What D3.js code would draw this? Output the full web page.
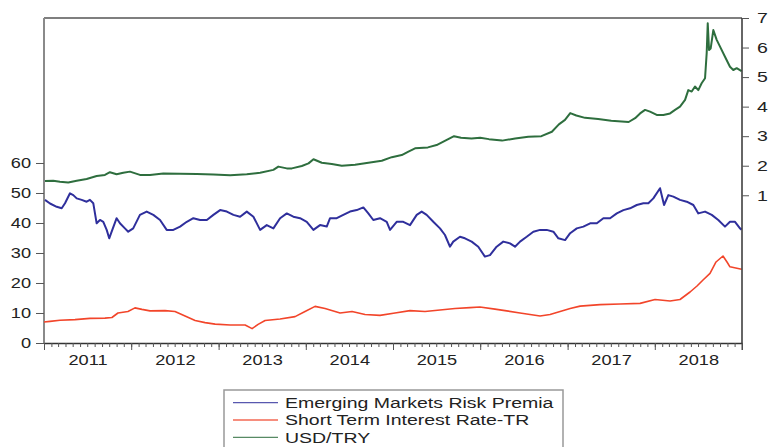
<!DOCTYPE html>
<html>
<head>
<meta charset="utf-8">
<script src="https://cdn.jsdelivr.net/npm/d3@7"></script>
<style>
  body { margin: 0; background: #fff; }
  text { font-family: "Liberation Sans", Arial, sans-serif; fill: #222; }
</style>
</head>
<body>
<div id="chart"></div>
<script>
// chart size and plot box
var width = 769, height = 447;
var box = {left: 44, right: 742, top: 18, bottom: 343};
var stretch = 1.3; // the picture's text is drawn wide

// Emerging Markets Risk Premia (left axis)
var emrpYears = [2011.011, 2011.069, 2011.146, 2011.203, 2011.241, 2011.298, 2011.336, 2011.375, 2011.432, 2011.489,
  2011.527, 2011.565, 2011.604, 2011.642, 2011.680, 2011.719, 2011.748, 2011.776, 2011.833, 2011.871,
  2011.928, 2011.966, 2012.023, 2012.100, 2012.177, 2012.253, 2012.330, 2012.406, 2012.482, 2012.559,
  2012.636, 2012.711, 2012.788, 2012.865, 2012.940, 2013.017, 2013.094, 2013.170, 2013.246, 2013.323,
  2013.399, 2013.476, 2013.552, 2013.628, 2013.705, 2013.782, 2013.857, 2013.934, 2014.011, 2014.087,
  2014.163, 2014.240, 2014.278, 2014.355, 2014.430, 2014.507, 2014.584, 2014.660, 2014.717, 2014.774,
  2014.851, 2014.928, 2014.966, 2015.042, 2015.118, 2015.195, 2015.272, 2015.329, 2015.386, 2015.462,
  2015.539, 2015.596, 2015.653, 2015.691, 2015.768, 2015.825, 2015.902, 2015.978, 2016.054, 2016.112,
  2016.188, 2016.264, 2016.341, 2016.398, 2016.456, 2016.532, 2016.608, 2016.685, 2016.761, 2016.837,
  2016.894, 2016.971, 2017.029, 2017.105, 2017.181, 2017.258, 2017.335, 2017.410, 2017.487, 2017.564,
  2017.640, 2017.716, 2017.793, 2017.869, 2017.926, 2017.983, 2018.060, 2018.106, 2018.155, 2018.213,
  2018.289, 2018.366, 2018.442, 2018.499, 2018.576, 2018.653, 2018.728, 2018.805, 2018.862, 2018.920,
  2018.977, 2018.995];
var emrpValues = [47.7, 46.5, 45.4, 44.9, 46.6, 49.9, 49.3, 48.2, 47.7, 47.1,
  47.7, 46.6, 39.9, 41.0, 40.4, 37.7, 34.9, 37.1, 41.6, 39.9,
  38.2, 37.1, 38.2, 42.7, 43.8, 42.7, 41.0, 37.7, 37.7, 38.8,
  40.4, 41.6, 41.0, 41.0, 42.7, 44.3, 43.8, 42.7, 42.1, 43.8,
  42.1, 37.7, 39.3, 38.2, 41.6, 43.2, 42.1, 41.6, 40.4, 37.7,
  39.3, 38.8, 41.6, 41.6, 42.7, 43.8, 44.3, 45.2, 43.2, 41.0,
  41.6, 40.4, 37.7, 40.4, 40.4, 39.3, 42.7, 43.8, 42.7, 40.4,
  38.2, 36.0, 32.1, 33.8, 35.4, 34.9, 33.8, 32.1, 28.8, 29.3,
  32.1, 33.8, 33.2, 32.1, 33.8, 35.4, 37.1, 37.7, 37.7, 37.1,
  34.9, 34.3, 36.6, 38.2, 38.8, 39.9, 39.9, 41.6, 41.6, 43.2,
  44.3, 44.9, 46.0, 46.6, 46.6, 48.2, 51.6, 46.0, 49.3, 48.8,
  47.7, 47.1, 46.0, 43.2, 43.8, 42.7, 41.0, 38.8, 40.4, 40.4,
  38.2, 37.8];

// Short Term Interest Rate-TR (left axis)
var rateYears = [2011.000, 2011.069, 2011.183, 2011.355, 2011.527, 2011.699, 2011.779, 2011.848, 2011.963, 2012.043,
  2012.123, 2012.215, 2012.387, 2012.501, 2012.616, 2012.731, 2012.845, 2012.960, 2013.132, 2013.304,
  2013.384, 2013.453, 2013.533, 2013.705, 2013.877, 2013.991, 2014.106, 2014.221, 2014.393, 2014.530,
  2014.679, 2014.851, 2015.023, 2015.195, 2015.367, 2015.539, 2015.711, 2015.883, 2015.997, 2016.169,
  2016.284, 2016.456, 2016.570, 2016.685, 2016.799, 2016.914, 2017.029, 2017.143, 2017.372, 2017.602,
  2017.831, 2018.003, 2018.175, 2018.289, 2018.404, 2018.484, 2018.553, 2018.633, 2018.702, 2018.782,
  2018.828, 2018.862, 2018.995];
var rateValues = [7.0, 7.2, 7.6, 7.8, 8.2, 8.3, 8.5, 10.0, 10.5, 11.7,
  11.2, 10.7, 10.8, 10.5, 9.0, 7.5, 6.8, 6.3, 6.0, 6.0,
  4.8, 6.2, 7.5, 8.0, 8.8, 10.5, 12.2, 11.5, 10.0, 10.5,
  9.5, 9.2, 10.0, 10.8, 10.5, 11.0, 11.5, 11.8, 12.0, 11.3,
  10.8, 10.0, 9.5, 9.0, 9.5, 10.5, 11.5, 12.3, 12.8, 13.0,
  13.2, 14.5, 14.0, 14.5, 17.0, 19.0, 21.0, 23.2, 27.0, 29.0,
  27.0, 25.4, 24.6];

// USD/TRY (right axis)
var usdYears = [2011.011, 2011.106, 2011.183, 2011.278, 2011.375, 2011.489, 2011.604, 2011.699, 2011.756, 2011.833,
  2011.909, 2011.986, 2012.100, 2012.215, 2012.367, 2012.559, 2012.750, 2012.940, 2013.132, 2013.323,
  2013.476, 2013.628, 2013.685, 2013.782, 2013.840, 2013.954, 2014.031, 2014.088, 2014.183, 2014.298,
  2014.413, 2014.565, 2014.718, 2014.871, 2014.986, 2015.100, 2015.177, 2015.253, 2015.400, 2015.500,
  2015.600, 2015.700, 2015.780, 2015.900, 2016.000, 2016.100, 2016.250, 2016.400, 2016.550, 2016.700,
  2016.820, 2016.900, 2016.970, 2017.030, 2017.100, 2017.200, 2017.350, 2017.500, 2017.620, 2017.700,
  2017.774, 2017.831, 2017.888, 2017.945, 2018.022, 2018.098, 2018.175, 2018.232, 2018.289, 2018.347,
  2018.384, 2018.423, 2018.461, 2018.499, 2018.537, 2018.576, 2018.595, 2018.607, 2018.622, 2018.641,
  2018.671, 2018.710, 2018.748, 2018.805, 2018.862, 2018.900, 2018.939, 2018.995];
var usdValues = [1.48, 1.49, 1.46, 1.43, 1.49, 1.55, 1.65, 1.69, 1.78, 1.71,
  1.76, 1.80, 1.69, 1.69, 1.74, 1.73, 1.72, 1.70, 1.68, 1.71,
  1.76, 1.86, 1.97, 1.91, 1.91, 1.99, 2.08, 2.22, 2.10, 2.06,
  2.00, 2.03, 2.10, 2.17, 2.29, 2.36, 2.48, 2.59, 2.62, 2.70,
  2.85, 3.00, 2.95, 2.92, 2.95, 2.90, 2.85, 2.92, 2.98, 3.00,
  3.15, 3.40, 3.55, 3.78, 3.70, 3.62, 3.58, 3.52, 3.50, 3.48,
  3.61, 3.77, 3.89, 3.83, 3.72, 3.72, 3.77, 3.89, 4.00, 4.23,
  4.56, 4.51, 4.68, 4.56, 4.79, 4.96, 5.81, 6.82, 5.92, 5.97,
  6.59, 6.26, 6.03, 5.69, 5.35, 5.24, 5.30, 5.20];

var yearLabels = ["2011", "2012", "2013", "2014", "2015", "2016", "2017", "2018"];
var leftTicks = [0, 10, 20, 30, 40, 50, 60];
var rightTicks = [1, 2, 3, 4, 5, 6, 7];
var seriesNames = ["Emerging Markets Risk Premia", "Short Term Interest Rate-TR", "USD/TRY"];
var seriesColors = ["#2f2f9c", "#f2452a", "#2e6e3e"];

// decimal year -> Date
function toDate(y) {
    var yr = Math.floor(y);
    var start = Date.UTC(yr, 0, 1), end = Date.UTC(yr + 1, 0, 1);
    return new Date(start + (y - yr) * (end - start));
}

var svg = d3.select("#chart").append("svg")
    .attr("width", width)
    .attr("height", height);

// scales
var x = d3.scaleUtc()
    .domain([new Date(Date.UTC(2011, 0, 1)), new Date(Date.UTC(2019, 0, 1))])
    .range([box.left, box.right]);
var yLeft = d3.scaleLinear().domain([0, 108.33]).range([box.bottom, box.top]);
var yRight = d3.scaleLinear().domain([-4, 7]).range([box.bottom, box.top]);

// frame
svg.append("line").attr("x1", box.left).attr("x2", box.right).attr("y1", box.top).attr("y2", box.top)
    .attr("stroke", "#555").attr("stroke-width", 1.5);
svg.append("line").attr("x1", box.left).attr("x2", box.left).attr("y1", box.top).attr("y2", box.bottom)
    .attr("stroke", "#8a8a8a").attr("stroke-width", 2);

// lines
var line = function(yScale) {
    return d3.line().x(d => x(toDate(d[0]))).y(d => yScale(d[1]));
};
var series = [
    {years: usdYears, values: usdValues, scale: yRight, color: seriesColors[2], w: 2},
    {years: rateYears, values: rateValues, scale: yLeft, color: seriesColors[1], w: 1.6},
    {years: emrpYears, values: emrpValues, scale: yLeft, color: seriesColors[0], w: 2}
];
series.forEach(function(s) {
    var pts = s.years.map((t, i) => [t, s.values[i]]);
    svg.append("path")
        .datum(pts)
        .attr("fill", "none")
        .attr("stroke", s.color)
        .attr("stroke-width", s.w)
        .attr("stroke-linejoin", "round")
        .attr("d", line(s.scale));
});

// bottom axis: month ticks, year ticks, then year labels in mid-year
var minorAxis = svg.append("g")
    .attr("transform", `translate(0, ${box.bottom})`)
    .call(d3.axisBottom(x).ticks(d3.utcMonth.every(1)).tickSize(4).tickSizeOuter(0).tickFormat(""));
var majorAxis = svg.append("g")
    .attr("transform", `translate(0, ${box.bottom})`)
    .call(d3.axisBottom(x).ticks(d3.utcYear.every(1)).tickSize(7).tickSizeOuter(0).tickFormat(""));
majorAxis.select(".domain").remove();
svg.append("line").attr("x1", box.right).attr("x2", box.right).attr("y1", box.bottom).attr("y2", box.bottom + 7)
    .attr("stroke", "#444");

var labelAxis = svg.append("g")
    .attr("transform", `translate(0, ${box.bottom})`)
    .call(d3.axisBottom(x)
        .tickValues(yearLabels.map(y => new Date(Date.UTC(+y, 6, 2))))
        .tickSize(0)
        .tickFormat((d, i) => yearLabels[i]));
labelAxis.select(".domain").remove();
labelAxis.selectAll("text")
    .attr("y", 22)
    .attr("dy", 0)
    .style("font-size", "14px")
    .attr("transform", `scale(${stretch},1)`);

// left axis
var leftAxis = svg.append("g")
    .attr("transform", `translate(${box.left}, 0)`)
    .call(d3.axisLeft(yLeft).tickValues(leftTicks).tickSize(8).tickSizeOuter(0));
leftAxis.select(".domain").remove();
leftAxis.selectAll("text")
    .attr("x", -13 / stretch)
    .style("font-size", "14px")
    .attr("transform", `scale(${stretch},1)`);

// right axis
var rightAxis = svg.append("g")
    .attr("transform", `translate(${box.right}, 0)`)
    .call(d3.axisRight(yRight).tickValues(rightTicks).tickSize(7).tickSizeOuter(0));
rightAxis.select(".domain").attr("d", `M0,${box.top}V${box.bottom}`);
rightAxis.selectAll("text")
    .attr("x", 15 / stretch)
    .style("font-size", "15px")
    .attr("transform", `scale(${stretch},1)`);

svg.selectAll(".domain").attr("stroke", "#333").attr("stroke-width", 1.5);
svg.selectAll(".tick line").attr("stroke", "#555");
svg.selectAll(".tick text").attr("fill", "#222");

// legend
var legend = svg.append("g").attr("transform", "translate(224, 390)");
legend.append("rect")
    .attr("width", 339).attr("height", 70)
    .attr("fill", "#fff")
    .attr("stroke", "#999")
    .attr("stroke-width", 1.5);
seriesNames.forEach(function(name, i) {
    var yy = 12.7 + i * 17.3;
    legend.append("line")
        .attr("x1", 9).attr("x2", 54).attr("y1", yy).attr("y2", yy)
        .attr("stroke", seriesColors[i]).attr("stroke-width", 1.3).attr("opacity", 0.8);
    legend.append("text")
        .attr("x", 61 / stretch).attr("y", yy + 5.3)
        .attr("transform", `scale(${stretch},1)`)
        .style("font-size", "15px")
        .attr("fill", "#222")
        .text(name);
});
</script>
</body>
</html>
